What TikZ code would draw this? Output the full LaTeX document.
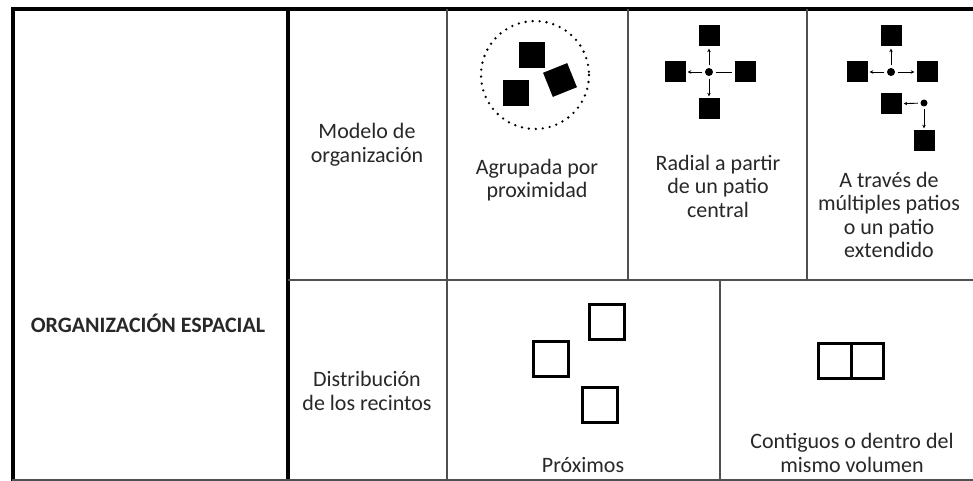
\documentclass[tikz,border=0pt]{standalone}
\usepackage{fontspec}
\setmainfont{Carlito}
\usepackage{tikz}
\usetikzlibrary{arrows.meta}
\definecolor{GridGray}{RGB}{80,80,80}
\definecolor{InkGray}{RGB}{40,40,40}
\tikzset{
  frame/.style={line width=4pt, black},
  grid/.style={line width=1.6pt, GridGray},
  rowline/.style={line width=2.8pt, GridGray},
  celltxt/.style={align=center, text=InkGray, inner sep=0pt,
    font=\fontsize{22}{23.5}\selectfont},
  titletxt/.style={celltxt, font=\fontsize{22}{23.5}\selectfont\bfseries},
  room/.style={fill=black, draw=none, minimum size=26pt, inner sep=0pt},
  sroom/.style={room, minimum size=21pt},
  openroom/.style={draw=black, line width=3pt, minimum size=35pt, inner sep=0pt},
  patio/.style={circle, fill=black, minimum size=8pt, inner sep=0pt},
  patharr/.style={-{Stealth[length=3.5pt,width=3.5pt]}, line width=0.9pt,
    shorten >=2pt, shorten <=2.5pt},
  pathline/.style={line width=0.9pt, shorten >=2pt, shorten <=2.5pt},
}

\begin{document}
\begin{tikzpicture}[x=1pt, y=-1pt]
    \useasboundingbox (0,0) rectangle (973,481);
    \fill[white] (0,0) rectangle (973,481);
    \clip (0,0) rectangle (973,481);
    % the table
    \draw[frame, line cap=rect] (973,9.5) -- (12.5,9.5) -- (12.5,481);
    \draw[frame, line width=3.5pt] (288,9.5) -- (288,481);
    \draw[rowline] (288,280) -- (973,280);
    \draw[grid] (447,9.5) -- (447,481);
    \draw[grid] (628,9.5) -- (628,280);
    \draw[grid] (807,9.5) -- (807,280);
    \draw[grid] (720,280) -- (720,481);
    \draw[grid, line width=2pt] (12,480) -- (973,480);
    % labels
    \node[titletxt] (lblorg) at (148,323) {ORGANIZACIÓN ESPACIAL};
    \node[celltxt] (lblmodel) at (367,145) {Modelo de\\organización};
    \node[celltxt] (lbldist) at (367,391) {Distribución\\de los recintos};
    \node[celltxt] (lblagr) at (537,180) {Agrupada por\\proximidad};
    \node[celltxt] (lblrad) at (718,186) {Radial a partir\\de un patio\\central};
    \node[celltxt] (lblmult) at (889,215) {A través de\\múltiples patios\\o un patio\\extendido};
    \node[celltxt] (lblprox) at (583,465) {Próximos};
    \node[celltxt] (lblcont) at (852,453) {Contiguos o dentro del\\mismo volumen};
    % grouped by proximity
    \draw[line width=2.6pt, line cap=round, dash pattern=on 0pt off 7pt] (535,75) circle (54);
    \node[room] (agrA) at (532,55) {};
    \node[room] (agrB) at (516,93) {};
    \node[room, rotate=22] (agrC) at (560,80) {};
    % radial from a central patio
    \node[patio] (radc) at (709,72) {};
    \node[sroom] (radt) at (709,36) {};
    \node[sroom] (radb) at (709,109) {};
    \node[sroom] (radl) at (675,72) {};
    \node[sroom] (radr) at (745,72) {};
    \draw[patharr] (radc) -- (radt);
    \draw[patharr] (radc) -- (radb);
    \draw[patharr] (radc) -- (radl);
    \draw[pathline] (radc) -- (radr);
    % several patios
    \node[patio] (mulc) at (891,72) {};
    \node[sroom] (mult) at (891,36) {};
    \node[sroom] (mull) at (857,72) {};
    \node[sroom] (mulr) at (927,72) {};
    \node[sroom] (mulm) at (891,104) {};
    \node[patio, minimum size=7pt] (muld) at (924,103) {};
    \node[sroom] (mulb) at (924,141) {};
    \foreach \t in {mult,mull,mulr} \draw[patharr] (mulc) -- (\t);
    \draw[patharr] (muld) -- (mulm);
    \draw[patharr] (muld) -- (mulb);
    % rooms near each other
    \node[openroom] (proxA) at (607,322) {};
    \node[openroom] (proxB) at (550.5,358.5) {};
    \node[openroom] (proxC) at (600,405) {};
    % rooms in one volume
    \node[openroom, minimum width=65pt] (vol) at (851,361) {};
    \draw[line width=3pt] (vol.north) -- (vol.south);
\end{tikzpicture}
\end{document}
